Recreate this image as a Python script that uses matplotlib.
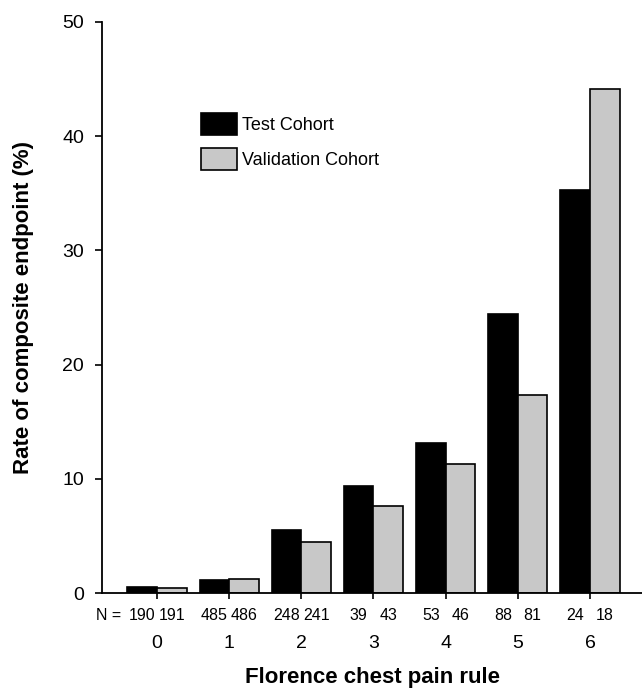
import matplotlib
matplotlib.use("Agg")
import matplotlib.pyplot as plt
import numpy as np

plt.rcParams['font.family'] = ['Liberation Sans', 'DejaVu Sans']

# %% Data.
scores = ["0", "1", "2", "3", "4", "5", "6"]
test_rate = [0.55, 1.1, 5.5, 9.35, 13.1, 24.4, 35.3]
valid_rate = [0.47, 1.2, 4.5, 7.65, 11.3, 17.3, 44.1]
test_n = [190, 485, 248, 39, 53, 88, 24]
valid_n = [191, 486, 241, 43, 46, 81, 18]

# %% Plot.
fig = plt.figure(figsize=(6.42, 6.94), dpi=100)
ax = fig.add_axes([0.159, 0.1455, 0.841, 0.8228])

x = np.arange(len(scores))
w = 0.41
ax.bar(x - w / 2, test_rate, width=w, color='black', edgecolor='black',
       linewidth=1.2, label='Test Cohort')
ax.bar(x + w / 2, valid_rate, width=w, color='#c8c8c8', edgecolor='black',
       linewidth=1.2, label='Validation Cohort')

ax.set_xlim(-0.76, 6.72)
ax.set_ylim(0, 50)
ax.set_yticks([0, 10, 20, 30, 40, 50])
ax.set_xticks(x)
ax.set_xticklabels(scores)

for s in ['top', 'right']:
    ax.spines[s].set_visible(False)
for s in ['left', 'bottom']:
    ax.spines[s].set_linewidth(1.3)

ax.tick_params(axis='y', direction='out', length=5, width=1.2, pad=8, labelsize=14)
ax.tick_params(axis='x', direction='out', length=4.5, width=1.2, pad=26, labelsize=14)

# N counts under each bar
ax.annotate("N =", xy=(-0.5, 0), xycoords=('data', 'axes fraction'),
            xytext=(0, -11), textcoords='offset points',
            ha='right', va='top', fontsize=11.5)
for i in range(len(scores)):
    ax.annotate(str(test_n[i]), xy=(x[i] - w / 2, 0), xycoords=('data', 'axes fraction'),
                xytext=(0, -11), textcoords='offset points',
                ha='center', va='top', fontsize=11.5)
    ax.annotate(str(valid_n[i]), xy=(x[i] + w / 2, 0), xycoords=('data', 'axes fraction'),
                xytext=(0, -11), textcoords='offset points',
                ha='center', va='top', fontsize=11.5)

ax.set_xlabel("Florence chest pain rule", fontsize=16, fontweight='bold')
ax.xaxis.set_label_coords(0.5, -0.13)
ax.set_ylabel("Rate of composite endpoint (%)", fontsize=16, fontweight='bold')
ax.yaxis.set_label_coords(-0.126, 0.5)

ax.legend(loc='upper left', bbox_to_anchor=(0.183, 0.84), frameon=False,
          fontsize=13, handlelength=2.0, handleheight=1.45, handletextpad=0.25,
          labelspacing=0.75, borderpad=0, borderaxespad=0)

fig.savefig("out.png", dpi=100)
